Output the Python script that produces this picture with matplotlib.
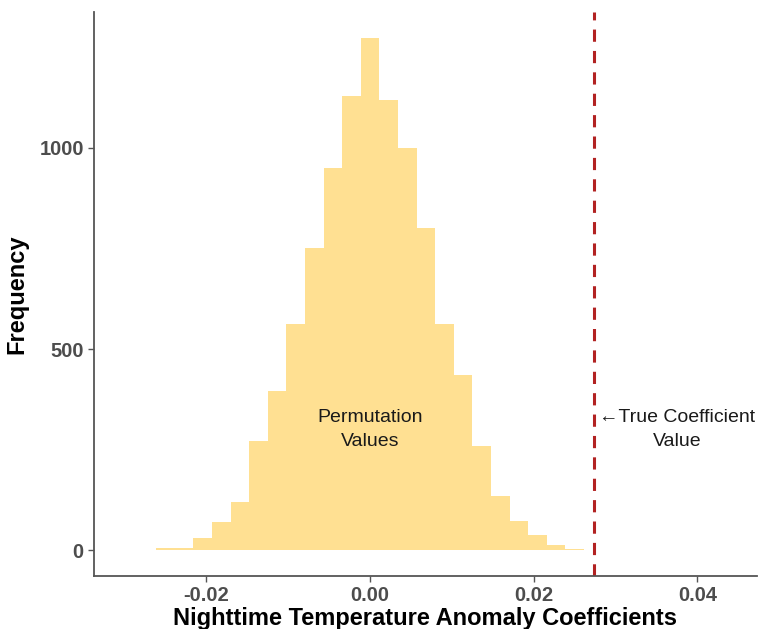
import matplotlib.pyplot as plt
import numpy as np

plt.rcParams['font.family'] = ['Liberation Sans', 'DejaVu Sans']

# histogram of 10000 permutation coefficients (counts)
bin_start = -0.0307
bin_width = 0.002274
counts = [1, 1, 5, 6, 30, 71, 119, 272, 395, 562, 752, 950, 1129, 1274,
          1120, 1001, 801, 562, 435, 259, 136, 74, 39, 14, 4, 0, 1]
true_coef = 0.0274

x_ticks = [-0.02, 0.00, 0.02, 0.04]
x_tick_labels = ["-0.02", "0.00", "0.02", "0.04"]
y_ticks = [0, 500, 1000]

fig = plt.figure(figsize=(7.58, 6.29), dpi=100)
ax = fig.add_axes([0.1234, 0.0843, 0.8753, 0.8966])

edges = bin_start + bin_width * np.arange(len(counts))
ax.bar(edges, counts, width=bin_width, align='edge', color='#FFE092',
       linewidth=0)

ax.axvline(true_coef, color='#B22222', linestyle=(0, (4, 3)), linewidth=2.2)

ax.text(0.0, 300, "Permutation\nValues", ha='center', va='center',
        fontsize=14, color='#1a1a1a', linespacing=1.5)
ax.text(0.0375, 300, "\u2190True Coefficient\nValue", ha='center',
        va='center', fontsize=14, color='#1a1a1a', linespacing=1.5)

ax.set_xlim(-0.0338, 0.0473)
ax.set_ylim(-63.7, 1337.7)
ax.set_xticks(x_ticks)
ax.set_xticklabels(x_tick_labels)
ax.set_yticks(y_ticks)

for s in ['top', 'right']:
    ax.spines[s].set_visible(False)
for s in ['left', 'bottom']:
    ax.spines[s].set_color('#555555')
    ax.spines[s].set_linewidth(1.3)

ax.tick_params(axis='both', length=4, width=1.0, color='#555555',
               labelcolor='#4D4D4D', labelsize=14.5, pad=3)
for lab in ax.get_xticklabels() + ax.get_yticklabels():
    lab.set_fontweight('bold')

ax.set_xlabel("Nighttime Temperature Anomaly Coefficients", fontsize=17,
              fontweight='bold', labelpad=2)
ax.set_ylabel("Frequency", fontsize=17, fontweight='bold', labelpad=8)

plt.savefig("out.png")
